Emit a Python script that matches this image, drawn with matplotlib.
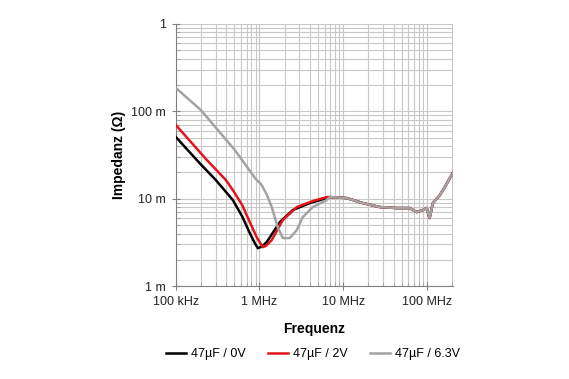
import matplotlib.pyplot as plt
from matplotlib.ticker import FixedLocator, LogLocator, NullFormatter

plt.rcParams["font.family"] = ["Liberation Sans", "DejaVu Sans"]

# frequency in Hz, impedance in Ohm
freq_common = [6.92e6, 1.10e7, 1.71e7, 2.74e7, 4.37e7, 6.25e7, 7.57e7, 8.93e7, 9.97e7,
               1.08e8, 1.18e8, 1.43e8, 1.64e8, 2.04e8]
imp_common = [0.01044, 0.01018, 0.00892, 0.00803, 0.00782, 0.00782, 0.00703, 0.00742,
              0.00782, 0.00601, 0.00892, 0.0110, 0.0136, 0.0197]

freq_0v = [1.0e5, 1.935e5, 3.0e5, 4.8e5, 6.2e5, 7.66e5, 8.8e5, 9.55e5, 1.05e6, 1.22e6,
           1.75e6, 2.5e6, 3.99e6, 6.37e6]
imp_0v = [0.0508, 0.0254, 0.0164, 0.00966, 0.0063, 0.00404, 0.0031, 0.00272, 0.00282,
          0.00319, 0.0054, 0.00742, 0.00892, 0.01018]

freq_2v = [1.0e5, 2.35e5, 3.96e5, 4.8e5, 6.2e5, 7.66e5, 9.3e5, 1.094e6, 1.2e6, 1.40e6,
           1.90e6, 2.79e6, 4.33e6, 6.37e6]
imp_2v = [0.0697, 0.0277, 0.0164, 0.01257, 0.0085, 0.0054, 0.0036, 0.00279, 0.0029,
          0.00336, 0.0057, 0.00803, 0.0094, 0.01044]

freq_63v = [1.0e5, 1.99e5, 5.07e5, 9.03e5, 1.05e6, 1.22e6, 1.40e6, 1.65e6, 1.90e6, 2.30e6,
            2.79e6, 3.29e6, 4.33e6, 6.37e6]
imp_63v = [0.185, 0.1035, 0.0361, 0.0168, 0.0146, 0.0112, 0.00803, 0.00474, 0.00355,
           0.00355, 0.00438, 0.00616, 0.00803, 0.00966]

labels = ["47µF / 0V", "47µF / 2V", "47µF / 6.3V"]
colors = ["#000000", "#e3141b", "#a3a3a3"]

x_ticks = [1e5, 1e6, 1e7, 1e8]
x_labels = ["100 kHz", "1 MHz", "10 MHz", "100 MHz"]
y_ticks = [1e-3, 1e-2, 1e-1, 1]
y_labels = ["1 m", "10 m", "100 m", "1"]

fig = plt.figure(figsize=(5.69, 3.79), dpi=100)
ax = fig.add_axes([0.309, 0.245, 0.487, 0.692])

series = [(freq_0v, imp_0v), (freq_2v, imp_2v), (freq_63v, imp_63v)]
for i, (f, z) in enumerate(series):
    ax.plot(f + freq_common, z + imp_common, color=colors[i], lw=1.8,
            label=labels[i], zorder=3 + i, solid_joinstyle="round")

ax.set_xscale("log")
ax.set_yscale("log")
ax.set_xlim(1e5, 2.05e8)
ax.set_ylim(1e-3, 1)

ax.xaxis.set_major_locator(FixedLocator(x_ticks))
ax.set_xticklabels(x_labels)
ax.yaxis.set_major_locator(FixedLocator(y_ticks))
ax.set_yticklabels(y_labels)
ax.xaxis.set_minor_locator(LogLocator(base=10, subs=range(2, 10), numticks=20))
ax.yaxis.set_minor_locator(LogLocator(base=10, subs=range(2, 10), numticks=20))
ax.xaxis.set_minor_formatter(NullFormatter())
ax.yaxis.set_minor_formatter(NullFormatter())

ax.grid(True, which="both", color="#c8c8c8", lw=0.8)
ax.set_axisbelow(True)
for s in ["top", "right"]:
    ax.spines[s].set_visible(False)
for s in ["left", "bottom"]:
    ax.spines[s].set_color("#808080")
ax.tick_params(which="major", direction="inout", length=6, color="#808080",
               labelsize=9, labelcolor="#222222", pad=4)
ax.tick_params(which="minor", direction="in", length=3, color="#a0a0a0")

ax.set_ylabel("Impedanz (Ω)", fontsize=10, fontweight="bold", labelpad=4)
ax.set_xlabel("Frequenz", fontsize=10, fontweight="bold", labelpad=10)

fig.legend(loc="lower center", bbox_to_anchor=(0.55, 0.02), ncol=3, frameon=False,
           fontsize=9, handlelength=1.6, columnspacing=1.8, handletextpad=0.4)

fig.savefig("out.png", dpi=100)
